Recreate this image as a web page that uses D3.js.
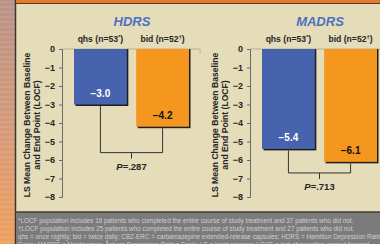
<!DOCTYPE html>
<html>
<head>
<meta charset="utf-8">
<script src="https://cdn.jsdelivr.net/npm/d3@7"></script>
<style>
  html, body { margin:0; padding:0; background:#e5dcb9; }
  svg { display:block; font-family: "Liberation Sans", Arial, sans-serif; }
</style>
</head>
<body>
<svg id="chart" width="380" height="244"></svg>
<script>
// data
const panels = ["HDRS", "MADRS"];
const groups = ["qhs (n=53", "bid (n=52"];
const groupMarks = ["*", "†"];
const hdrsValues = [-3.0, -4.2];
const madrsValues = [-5.4, -6.1];
const pValues = ["P=.287", "P=.713"];
const bracketLevels = [-5.6, -6.7];
const yTicks = [0, -1, -2, -3, -4, -5, -6, -7, -8];
const footnotes = [
  "*LOCF population includes 16 patients who completed the entire course of study treatment and 37 patients who did not.",
  "†LOCF population includes 25 patients who completed the entire course of study treatment and 27 patients who did not.",
  "qhs = once nightly; bid = twice daily; CBZ-ERC = carbamazepine extended-release capsules; HDRS = Hamilton Depression Rating",
  "Scale; MADRS = Montgomery-Åsberg Depression Rating Scale; LS = least squares; LOCF = last observation carried forward."
];

const COLOURS = { BLUE:"#4863ae", ORANGE:"#f5961f", BG:"#e5dcb9", AXIS:"#6a6a6a", INK:"#262626" };
const width = 380, height = 244;

const svg = d3.select("#chart");

// left decorative strip
const defs = svg.append("defs");
const grad = defs.append("linearGradient").attr("id", "stripGrad")
  .attr("x1", 0).attr("y1", 0).attr("x2", 0).attr("y2", 1);
grad.append("stop").attr("offset", "0%").attr("stop-color", "#b99287");
grad.append("stop").attr("offset", "55%").attr("stop-color", "#d79a78");
grad.append("stop").attr("offset", "100%").attr("stop-color", "#f09f5c");
svg.append("rect").attr("x", 0).attr("y", 0).attr("width", 15).attr("height", height).attr("fill", "url(#stripGrad)");
svg.append("g").selectAll("line").data(d3.range(2, height, 5)).join("line")
  .attr("x1", 0).attr("x2", 15).attr("y1", d => d).attr("y2", d => d)
  .attr("stroke", "#ffffff").attr("stroke-opacity", 0.18).attr("stroke-width", 1);
svg.append("line").attr("x1", 15.5).attr("x2", 15.5).attr("y1", 0).attr("y2", height)
  .attr("stroke", "#3a3530").attr("stroke-width", 1.5);

// top orange band
svg.append("rect").attr("x", 16).attr("y", 0).attr("width", width - 16).attr("height", 3).attr("fill", "#e8782a");
svg.append("line").attr("x1", 16).attr("x2", width).attr("y1", 3.5).attr("y2", 3.5)
  .attr("stroke", "#4a4030").attr("stroke-width", 1.2);

// y scale shared
const y = d3.scaleLinear().domain([0, -8]).range([49, 197]);

function panelChart(g, title, values, pText, bracketLevel, axisX) {
  const x = d3.scaleBand().domain(groups).range([axisX + 12, axisX + 127]).paddingInner(0.15).paddingOuter(0);

  // baseline guide
  g.append("path")
    .attr("d", `M${axisX},${y(0)}H${axisX + 138}v4`)
    .attr("fill", "none").attr("stroke", "#b8b09a").attr("stroke-width", 1);

  // axis
  const axis = d3.axisLeft(y).tickValues(yTicks).tickSize(3).tickPadding(4).tickFormat(d3.format("d"));
  const axisG = g.append("g").attr("transform", `translate(${axisX},0)`).call(axis);
  axisG.select(".domain").attr("stroke", COLOURS.AXIS);
  axisG.selectAll(".tick line").attr("stroke", COLOURS.AXIS);
  axisG.selectAll(".tick text").attr("font-size", 9).attr("font-weight", "bold").attr("fill", COLOURS.INK)
    .attr("font-family", "Liberation Sans, Arial, sans-serif");

  // title
  g.append("text").attr("x", axisX + 70).attr("y", 26)
    .attr("text-anchor", "middle").attr("font-size", 13).attr("font-weight", "bold")
    .attr("font-style", "italic").attr("fill", "#4a70c2").text(title);

  // group labels
  g.selectAll("text.group").data(groups).join("text").attr("class", "group")
    .attr("x", d => x(d) + x.bandwidth() / 2).attr("y", 42)
    .attr("text-anchor", "middle").attr("font-size", 8.6).attr("font-weight", "bold").attr("fill", COLOURS.INK)
    .each(function (d, i) {
      const t = d3.select(this);
      t.append("tspan").text(d);
      t.append("tspan").attr("dy", -3).attr("font-size", 6).text(groupMarks[i]);
      t.append("tspan").attr("dy", 3).text(")");
    });

  // bars with shadow
  const fills = [COLOURS.BLUE, COLOURS.ORANGE];
  g.selectAll("rect.shadow").data(values).join("rect").attr("class", "shadow")
    .attr("x", (d, i) => x(groups[i]) + 1.5).attr("y", y(0))
    .attr("width", x.bandwidth()).attr("height", d => y(d) - y(0) + 1.5)
    .attr("fill", "#1e1e1e");
  g.selectAll("rect.bar").data(values).join("rect").attr("class", "bar")
    .attr("x", (d, i) => x(groups[i])).attr("y", y(0))
    .attr("width", x.bandwidth()).attr("height", d => y(d) - y(0))
    .attr("fill", (d, i) => fills[i]);

  // value labels
  g.selectAll("text.val").data(values).join("text").attr("class", "val")
    .attr("x", (d, i) => x(groups[i]) + x.bandwidth() / 2).attr("y", d => y(d) - 11)
    .attr("text-anchor", "middle").attr("dominant-baseline", "central")
    .attr("font-size", 10).attr("font-weight", "bold")
    .attr("fill", (d, i) => i === 0 ? "#ffffff" : "#111111")
    .text(d => "\u2212" + Math.abs(d).toFixed(1));

  // bracket
  const cx = values.map((d, i) => x(groups[i]) + x.bandwidth() / 2);
  const by = y(bracketLevel);
  const mid = (cx[0] + cx[1]) / 2;
  g.append("path")
    .attr("d", `M${cx[0]},${y(values[0]) + 1.5}V${by}H${cx[1]}V${y(values[1]) + 1.5}M${mid},${by}v6`)
    .attr("fill", "none").attr("stroke", "#333").attr("stroke-width", 1);
  const pt = g.append("text").attr("x", mid).attr("y", by + 17)
    .attr("text-anchor", "middle").attr("font-size", 9.5).attr("font-weight", "bold").attr("fill", COLOURS.INK);
  pt.append("tspan").attr("font-style", "italic").text(pText.slice(0, 1));
  pt.append("tspan").text(pText.slice(1));

  // y-axis title
  const tt = g.append("text").attr("transform", `translate(${axisX - 32},${(y(0) + y(-8)) / 2 + 2}) rotate(-90)`)
    .attr("text-anchor", "middle").attr("font-size", 8.6).attr("font-weight", "bold").attr("fill", COLOURS.INK);
  tt.append("tspan").attr("x", 0).attr("dy", 0).text("LS Mean Change Between Baseline");
  tt.append("tspan").attr("x", 0).attr("dy", 10).text("and End Point (LOCF)");
}

const panelValues = [hdrsValues, madrsValues];
const axisXs = [62, 250];
panels.forEach((p, i) => {
  panelChart(svg.append("g").attr("class", "panel-" + p), p, panelValues[i], pValues[i], bracketLevels[i], axisXs[i]);
});

// footnote box
svg.append("rect").attr("x", 16).attr("y", 212).attr("width", width - 16).attr("height", 32).attr("fill", "#7b7b7b");
svg.append("line").attr("x1", 16).attr("x2", width).attr("y1", 212).attr("y2", 212)
  .attr("stroke", "#3c3c3c").attr("stroke-width", 1.5);
const fnG = svg.append("g").attr("transform", "translate(18,0)");
const fn = fnG.selectAll("text").data(footnotes).join("text")
  .attr("x", 0).attr("y", (d, i) => 223 + i * 8)
  .attr("font-size", 7).attr("fill", "#cfcfcf").text(d => d);
const w0 = fn.node().getComputedTextLength();
const sx = 336 / w0;
fnG.attr("transform", `translate(18,0) scale(${sx},1)`);
</script>
</body>
</html>
